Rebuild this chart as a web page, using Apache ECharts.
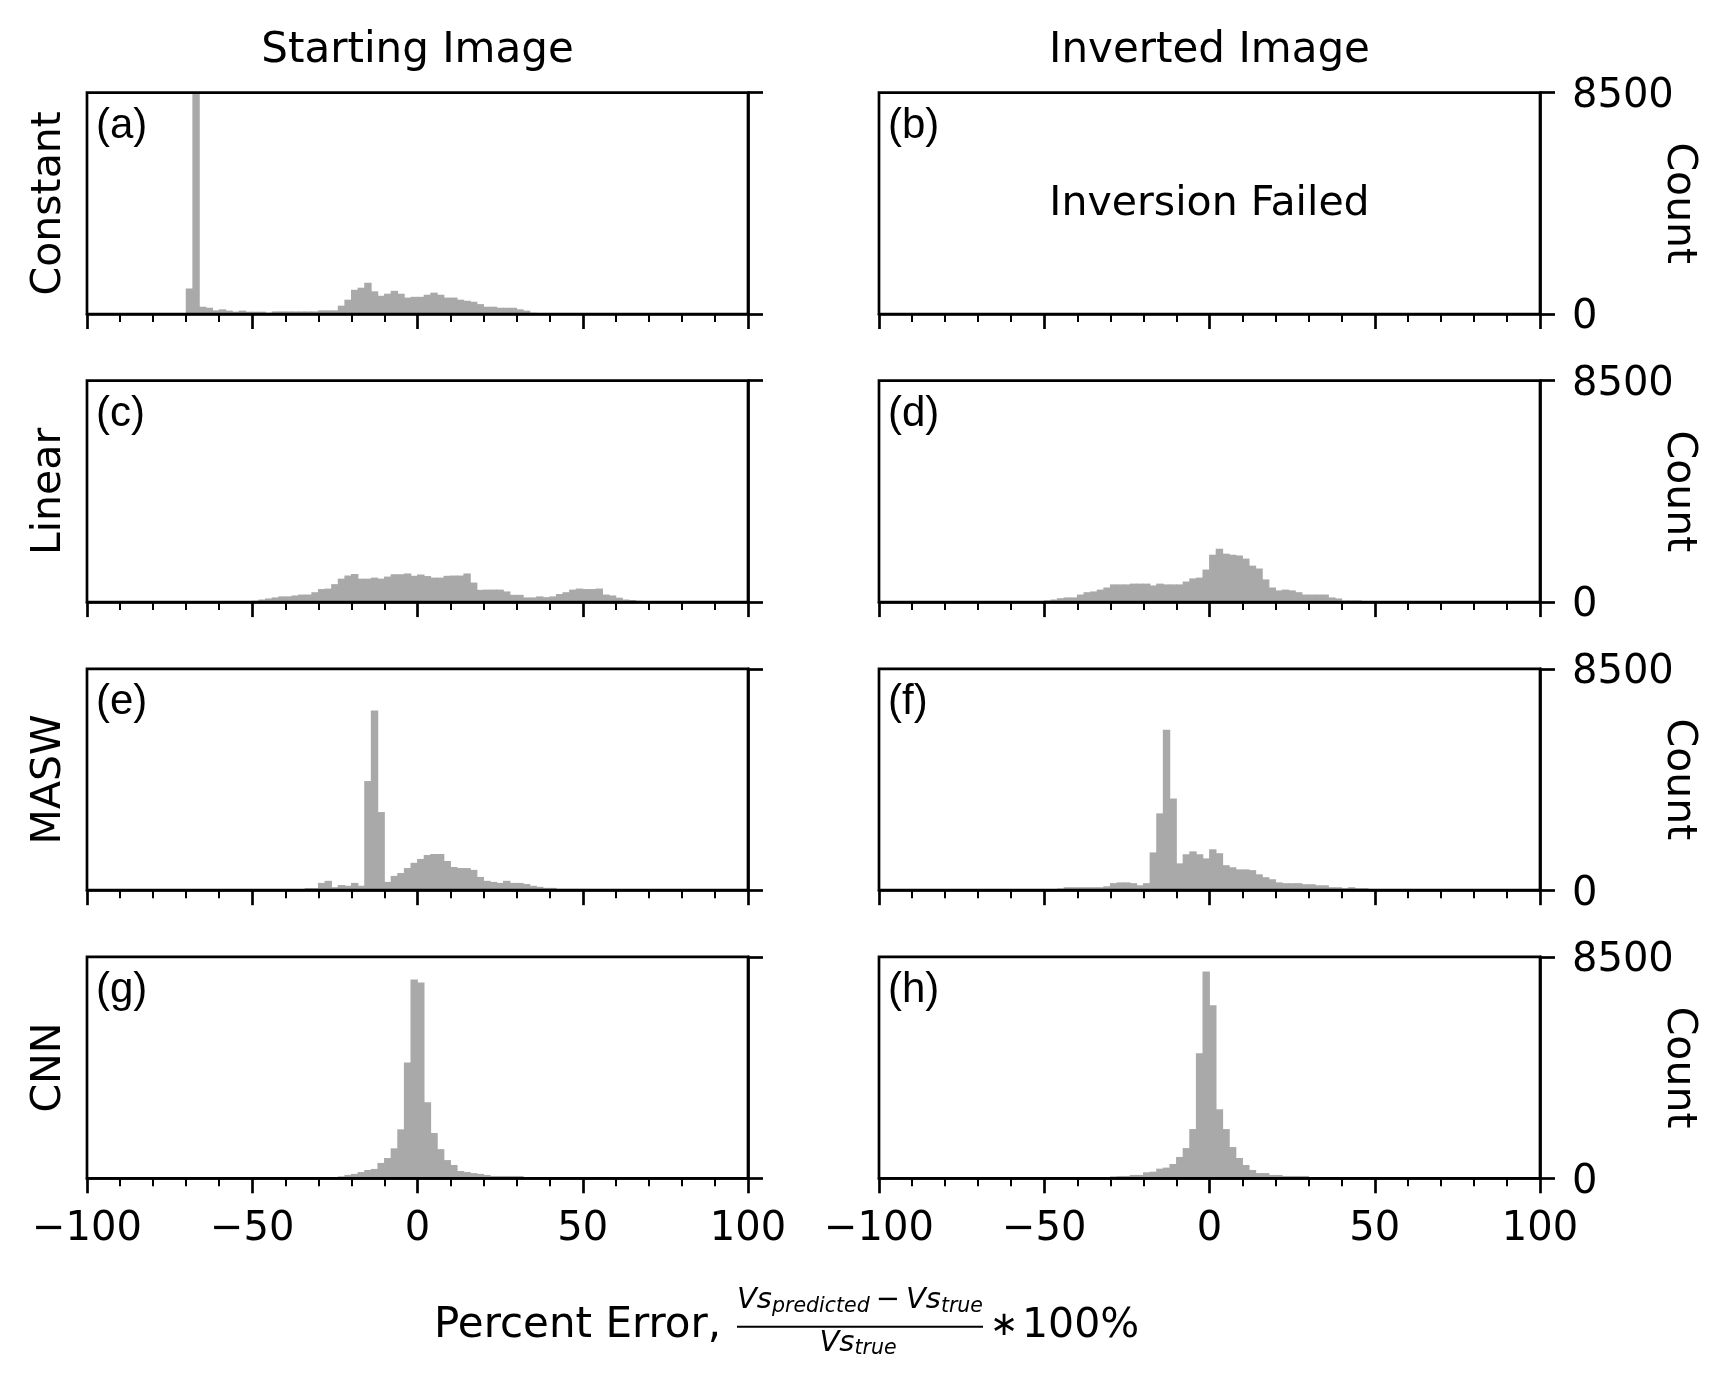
<!DOCTYPE html>
<html>
<head>
<meta charset="utf-8">
<script src="https://cdn.jsdelivr.net/npm/echarts@6/dist/echarts.min.js"></script>
<style>
html, body { margin: 0; padding: 0; background: #fff; }
#container { width: 1722px; height: 1389px; }
</style>
</head>
<body>
<div id="container"></div>
<script>
// left edge of each 2 %-wide histogram bin (bins outside -70..70 are empty)
var binLeft = [-70, -68, -66, -64, -62, -60, -58, -56, -54, -52,
               -50, -48, -46, -44, -42, -40, -38, -36, -34, -32,
               -30, -28, -26, -24, -22, -20, -18, -16, -14, -12,
               -10, -8, -6, -4, -2, 0, 2, 4, 6, 8,
               10, 12, 14, 16, 18, 20, 22, 24, 26, 28,
               30, 32, 34, 36, 38, 40, 42, 44, 46, 48,
               50, 52, 54, 56, 58, 60, 62, 64, 66, 68];
var binWidth = 2;

var colTitles = ['Starting Image', 'Inverted Image'];
var rowTitles = ['Constant', 'Linear', 'MASW', 'CNN'];
var panelTags = ['(a)', '(b)', '(c)', '(d)', '(e)', '(f)', '(g)', '(h)'];
var xTickValues = [-100, -50, 0, 50, 100];
var countMax = 8500;

// counts per bin, same order as binLeft
var constantStart = [980, 9500, 280, 240, 140, 180, 130, 90, 130, 90,
                     90, 90, 50, 100, 100, 100, 100, 100, 100, 100,
                     140, 140, 140, 320, 550, 930, 1010, 1200, 870, 700,
                     780, 890, 780, 630, 660, 660, 740, 820, 740, 630,
                     630, 550, 510, 470, 380, 280, 280, 240, 240, 240,
                     180, 130, 50, 0, 0, 0, 0, 0, 0, 0,
                     0, 0, 0, 0, 0, 0, 0, 0, 0, 0];
var constantInverted = null; // inversion failed

var linearStart = [0, 0, 0, 0, 0, 0, 0, 0, 0, 0,
                   50, 100, 140, 180, 220, 220, 255, 290, 290, 380,
                   500, 520, 690, 900, 1020, 1080, 900, 900, 940, 900,
                   980, 1070, 1070, 1100, 1010, 1060, 1000, 940, 940, 1010,
                   1020, 1020, 1100, 750, 470, 480, 480, 480, 410, 280,
                   280, 180, 180, 220, 190, 220, 310, 380, 480, 520,
                   500, 500, 520, 290, 255, 170, 100, 80, 50, 25];
var linearInverted = [0, 0, 0, 0, 0, 0, 0, 0, 0, 25,
                      65, 100, 150, 180, 180, 290, 380, 410, 480, 560,
                      680, 680, 680, 710, 710, 710, 640, 710, 680, 680,
                      680, 790, 910, 940, 1250, 1820, 2050, 1860, 1820, 1790,
                      1670, 1400, 1290, 870, 560, 450, 480, 450, 380, 290,
                      290, 290, 290, 180, 140, 65, 65, 65, 25, 10,
                      25, 25, 0, 0, 0, 0, 0, 0, 0, 0];

var maswStart = [0, 0, 0, 0, 0, 0, 0, 0, 0, 0,
                 40, 40, 40, 40, 40, 40, 40, 40, 80, 80,
                 280, 360, 115, 200, 170, 280, 170, 4190, 6900, 3000,
                 320, 550, 660, 850, 1050, 1200, 1350, 1390, 1390, 1120,
                 890, 850, 850, 780, 510, 360, 320, 280, 360, 280,
                 280, 240, 170, 130, 90, 90, 50, 50, 50, 50,
                 50, 15, 15, 15, 0, 0, 0, 0, 15, 0];
var maswInverted = [0, 0, 0, 0, 0, 0, 0, 0, 0, 0,
                    0, 0, 65, 115, 115, 115, 115, 115, 115, 150,
                    270, 300, 300, 270, 190, 270, 1450, 2950, 6160, 3520,
                    1030, 1380, 1490, 1380, 1220, 1570, 1420, 960, 880, 800,
                    800, 770, 610, 500, 420, 300, 270, 270, 270, 230,
                    230, 190, 190, 115, 115, 75, 115, 75, 75, 40,
                    15, 15, 40, 40, 15, 40, 15, 40, 40, 40];

var cnnStart = [0, 0, 0, 0, 0, 0, 0, 0, 0, 0,
                0, 0, 0, 0, 0, 0, 0, 0, 0, 0,
                40, 40, 40, 75, 130, 170, 240, 320, 360, 590,
                780, 1150, 1880, 4450, 7630, 7520, 2920, 1740, 1120, 700,
                510, 280, 240, 200, 170, 130, 90, 90, 90, 90,
                90, 50, 50, 50, 50, 40, 50, 0, 0, 0,
                0, 0, 0, 0, 0, 0, 0, 0, 0, 0];
var cnnInverted = [0, 0, 0, 0, 0, 0, 0, 0, 0, 0,
                   0, 0, 0, 0, 0, 0, 0, 0, 0, 30,
                   75, 90, 90, 130, 130, 230, 255, 370, 410, 550,
                   820, 1160, 1890, 4800, 7940, 6640, 2650, 1890, 1200, 780,
                   510, 320, 200, 200, 130, 130, 90, 90, 90, 90,
                   50, 50, 50, 50, 50, 40, 50, 0, 0, 0,
                   0, 0, 0, 0, 0, 0, 0, 0, 0, 0];

var panelCounts = [constantStart, constantInverted,
                   linearStart, linearInverted,
                   maswStart, maswInverted,
                   cnnStart, cnnInverted];

var dom = document.getElementById('container');
var myChart = echarts.init(dom, null, { renderer: 'canvas' });

var FONT = 'DejaVu Sans';
var BAR = '#a9a9a9';
var colLeft = [87, 879];
var panelW = 661;
var rowTop = [92.6, 380.7, 668.8, 956.9];
var panelH = 221.4;
var lineW = 2.7;

function fmtTick(v) {
    return v < 0 ? '\u2212' + (-v) : String(v);
}

function renderBin(params, api) {
    var h = api.value(1);
    if (!(h > 0)) return null;
    var x0 = api.value(0);
    var p0 = api.coord([x0, 0]);
    var p1 = api.coord([x0 + binWidth, h]);
    var cs = params.coordSys;
    // a hair of overlap so neighbouring bins don't show seams
    var shape = echarts.graphic.clipRectByRect(
        { x: p0[0] - 0.4, y: p1[1], width: p1[0] - p0[0] + 0.8, height: p0[1] - p1[1] },
        { x: cs.x, y: cs.y, width: cs.width, height: cs.height }
    );
    return shape && {
        type: 'rect',
        shape: shape,
        style: { fill: BAR }
    };
}

var grids = [], xAxes = [], yAxes = [], series = [], texts = [];

// text placed by its alphabetic baseline
function txt(s, x, base, size, align, fontStyle, rot) {
    var f = (fontStyle ? fontStyle + ' ' : '') + size + 'px "' + FONT + '"';
    return {
        type: 'text', x: x, y: base - 0.24 * size, rotation: rot || 0, z: 10,
        style: {
            text: s, fill: '#000', font: f,
            align: align, textAlign: align,
            verticalAlign: 'middle', textVerticalAlign: 'middle'
        }
    };
}

for (var i = 0; i < 8; i++) {
    var r = Math.floor(i / 2), c = i % 2;
    grids.push({
        left: colLeft[c], top: rowTop[r], width: panelW, height: panelH,
        show: true, borderColor: '#000', borderWidth: lineW,
        backgroundColor: 'transparent', z: 3
    });
    xAxes.push({
        gridIndex: i, type: 'value',
        min: xTickValues[0], max: xTickValues[xTickValues.length - 1],
        interval: xTickValues[1] - xTickValues[0], z: 4,
        axisLine: { show: true, onZero: false, lineStyle: { color: '#000', width: lineW } },
        axisTick: { show: true, length: 15, lineStyle: { color: '#000', width: lineW } },
        minorTick: { show: true, splitNumber: 5, length: 8, lineStyle: { color: '#000', width: 2 } },
        splitLine: { show: false },
        minorSplitLine: { show: false },
        axisLabel: {
            show: r === 3, margin: 31, fontSize: 40, fontFamily: FONT, color: '#000',
            formatter: fmtTick, showMinLabel: true, showMaxLabel: true
        }
    });
    yAxes.push({
        gridIndex: i, type: 'value', position: 'right',
        min: 0, max: countMax, interval: countMax, z: 4,
        axisLine: { show: true, onZero: false, lineStyle: { color: '#000', width: lineW } },
        axisTick: { show: true, length: 15, lineStyle: { color: '#000', width: lineW } },
        splitLine: { show: false },
        axisLabel: {
            show: c === 1, margin: 32, fontSize: 40, fontFamily: FONT, color: '#000',
            verticalAlign: 'top', lineHeight: 8,
            formatter: function (v) { return String(v); }
        }
    });
    var counts = panelCounts[i];
    if (counts) {
        series.push({
            type: 'custom',
            xAxisIndex: i, yAxisIndex: i,
            renderItem: renderBin,
            encode: { x: 0, y: 1 },
            silent: true,
            z: 2,
            data: binLeft.map(function (b, k) { return [b, counts[k]]; })
        });
    } else {
        texts.push(txt('Inversion Failed', colLeft[c] + panelW / 2, 214, 41, 'center'));
    }
    // panel tag in the upper-left corner
    texts.push({
        type: 'text', x: colLeft[c] + 9, y: rowTop[r] + 13, z: 10,
        style: {
            text: panelTags[i], fill: '#000',
            font: '42px "Liberation Sans"',
            align: 'left', textAlign: 'left', verticalAlign: 'top', textVerticalAlign: 'top'
        }
    });
}

// column titles
for (var c2 = 0; c2 < 2; c2++) {
    texts.push(txt(colTitles[c2], colLeft[c2] + panelW / 2, 61, 42, 'center'));
}
// row titles and count labels
for (var r2 = 0; r2 < 4; r2++) {
    var mid = rowTop[r2] + panelH / 2;
    var t = txt(rowTitles[r2], 0, 0, 41, 'center', null, Math.PI / 2);
    t.x = 49; t.y = mid;
    texts.push(t);
    var cl = txt('Count', 0, 0, 41, 'center', null, -Math.PI / 2);
    cl.x = 1679; cl.y = mid;
    texts.push(cl);
}

// x label: Percent Error, (Vs_predicted - Vs_true) / Vs_true * 100%
var ctx = document.createElement('canvas').getContext('2d');
function measure(font, s) { ctx.font = font; return ctx.measureText(s).width; }

function mathRow(parts, cx, base) {
    var total = 0;
    parts.forEach(function (p) {
        p.font = (p.italic ? 'italic ' : '') + p.size + 'px "' + FONT + '"';
        p.w = measure(p.font, p.s) + (p.pad || 0) * 2;
        total += p.w;
    });
    var x = cx - total / 2;
    parts.forEach(function (p) {
        texts.push(txt(p.s, x + (p.pad || 0), base + (p.drop || 0), p.size, 'left', p.italic ? 'italic' : null));
        x += p.w;
    });
}

texts.push(txt('Percent Error,', 434, 1336, 42, 'left'));
var fracCx = 860;
mathRow([
    { s: 'Vs', size: 29, italic: true },
    { s: 'predicted', size: 20.5, italic: true, drop: 4 },
    { s: '\u2212', size: 29, pad: 6 },
    { s: 'Vs', size: 29, italic: true },
    { s: 'true', size: 20.5, italic: true, drop: 4 }
], fracCx, 1307.5);
mathRow([
    { s: 'Vs', size: 29, italic: true },
    { s: 'true', size: 20.5, italic: true, drop: 4 }
], fracCx - 2, 1350);
texts.push({
    type: 'line', z: 10,
    shape: { x1: 737, y1: 1326.7, x2: 983, y2: 1326.7 },
    style: { stroke: '#000', lineWidth: 2 }
});
texts.push(txt('\u2217', 1004, 1334, 34, 'center'));
texts.push(txt('100%', 1022, 1336, 41, 'left'));

var option = {
    animation: false,
    backgroundColor: '#fff',
    grid: grids,
    xAxis: xAxes,
    yAxis: yAxes,
    series: series,
    graphic: { elements: texts }
};

myChart.setOption(option);
window.addEventListener('resize', myChart.resize);
</script>
</body>
</html>
